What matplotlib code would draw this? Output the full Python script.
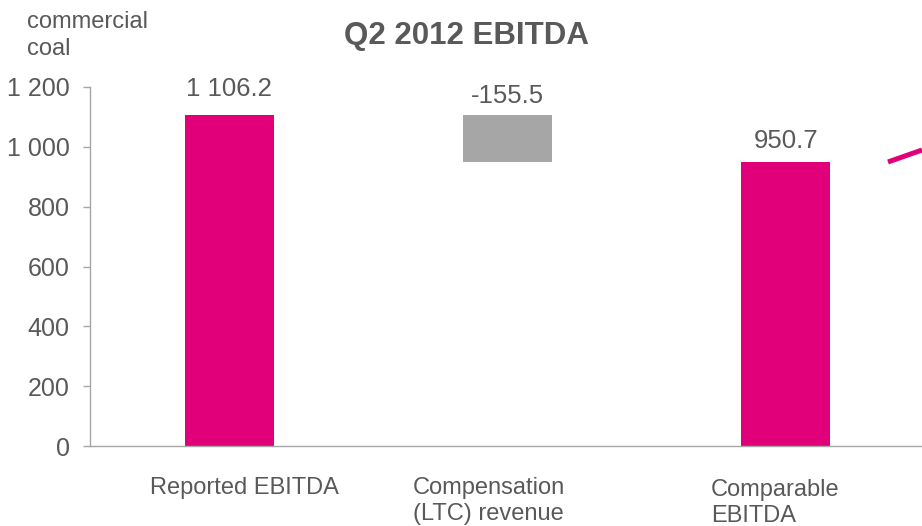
import matplotlib
matplotlib.use("Agg")
import matplotlib.pyplot as plt
from matplotlib.lines import Line2D

plt.rcParams["font.family"] = ["Liberation Sans", "DejaVu Sans"]

# EBITDA bridge, PLN m
categories = ["Reported EBITDA", "Compensation\n(LTC) revenue", "Comparable\nEBITDA"]
reported = 1106.2
adjustment = -155.5
comparable = round(reported + adjustment, 1)
y_ticks = [0, 200, 400, 600, 800, 1000, 1200]

PINK = "#E2007A"
GREY_BAR = "#A6A6A6"
TEXT = "#595959"
AXIS = "#A6A6A6"


def fmt(v):
    return f"{v:,.1f}".replace(",", " ")


fig = plt.figure(figsize=(9.22, 5.26), dpi=100)
ax = fig.add_axes([90 / 922, 1 - 446 / 526, 1 - 90 / 922, (446 - 87) / 526])

width = 0.32
bars_x = [0, 1, 2]
ax.bar(bars_x[0], reported, width=width, color=PINK, zorder=2)
ax.bar(bars_x[1], -adjustment, bottom=reported + adjustment, width=width,
       color=GREY_BAR, zorder=2)
ax.bar(bars_x[2], comparable, width=width, color=PINK, zorder=2)

# value labels above each bar
label_tops = [reported, reported, comparable]
label_texts = [fmt(reported), fmt(adjustment), fmt(comparable)]
label_offsets = [13.5, 8.5, 10]
for x, top, txt, off in zip(bars_x, label_tops, label_texts, label_offsets):
    ax.annotate(txt, (x, top), xytext=(0, off), textcoords="offset points",
                ha="center", va="baseline", fontsize=18.5, color=TEXT)

ax.set_xlim(-0.501, 2.489)
ax.set_ylim(0, 1200)
ax.set_yticks(y_ticks)
ax.set_yticklabels([f"{t:,}".replace(",", " ") for t in y_ticks])
ax.set_xticks([])

for side in ("top", "right"):
    ax.spines[side].set_visible(False)
for side in ("left", "bottom"):
    ax.spines[side].set_color(AXIS)
    ax.spines[side].set_linewidth(1.0)
ax.tick_params(axis="y", direction="out", length=5, width=1.0, color=AXIS,
               labelsize=18, labelcolor=TEXT, pad=9.5)
ax.tick_params(axis="x", length=0)

# category labels under the axis
cat_pos = [(150, 477), (413, 477), (711, 479)]
for (px, py), txt in zip(cat_pos, categories):
    fig.text(px / 922, 1 - py / 526, txt, ha="left", va="top", fontsize=17,
             color=TEXT, linespacing=1.25)

fig.text(466 / 922, 1 - 36 / 526, "Q2 2012 EBITDA", ha="center", va="center",
         fontsize=22.5, fontweight="bold", color=TEXT)
fig.text(27 / 922, 1 - 11 / 526, "commercial\ncoal", ha="left", va="top",
         fontsize=17, color=TEXT, linespacing=1.3)

# connector leaving the frame to the right
fig.add_artist(Line2D([888 / 922, 1.0], [1 - 162 / 526, 1 - 150 / 526],
                      transform=fig.transFigure, color=PINK, linewidth=3.6,
                      solid_capstyle="butt"))

fig.savefig("out.png", dpi=100)
